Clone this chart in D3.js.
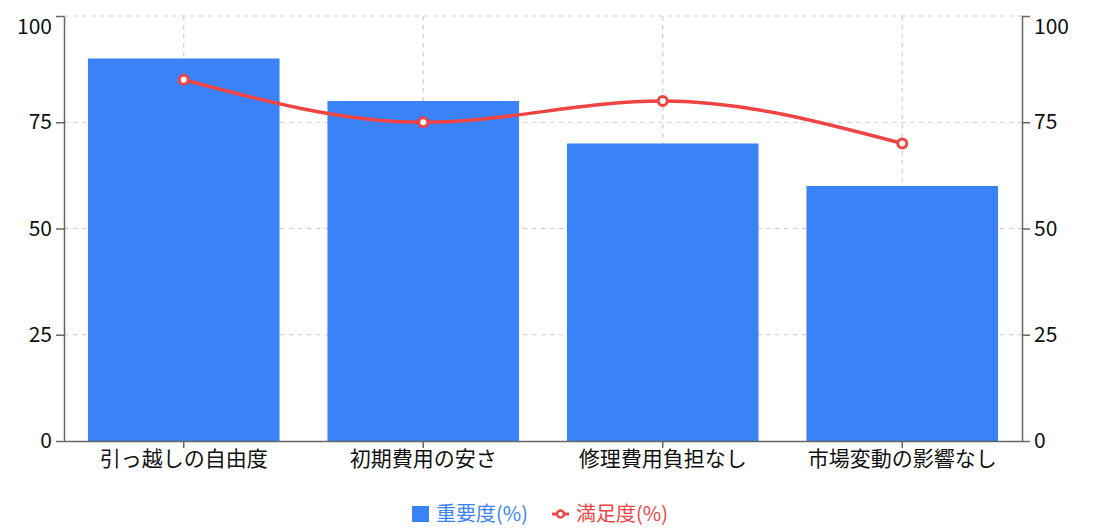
<!DOCTYPE html>
<html><head><meta charset="utf-8">
<script src="https://cdn.jsdelivr.net/npm/d3@7"></script>
<style>
html,body{margin:0;padding:0;background:#fff;}
svg text{font-family:"Noto Sans CJK JP","Noto Sans",sans-serif;}
</style></head>
<body><svg id="c" width="1101" height="528"></svg>
<script>
const categories = ["引っ越しの自由度","初期費用の安さ","修理費用負担なし","市場変動の影響なし"];
const importance = [90, 80, 70, 60];
const satisfaction = [85, 75, 80, 70];
const yTicks = [0, 25, 50, 75, 100];
const seriesNames = ["重要度(%)", "満足度(%)"];
const colors = {bar:"#3b82f6", line:"#ef4444"};

const svg = d3.select("#c");
const L = 64, R = 1022, T = 16, B = 441;
const x = d3.scaleBand().domain(categories).range([L, R]).paddingInner(0).paddingOuter(0);
const y = d3.scaleLinear().domain([0, 100]).range([B, T]);
const fs = 21;

// grid
const grid = svg.append("g").attr("stroke", "#ccc").attr("stroke-dasharray", "4.5 4.5").attr("stroke-width", 1.2);
grid.selectAll("line.h").data(yTicks.filter(d => d > 0)).enter().append("line")
  .attr("x1", L).attr("x2", R).attr("y1", d => y(d)).attr("y2", d => y(d));
grid.selectAll("line.v").data(categories).enter().append("line")
  .attr("x1", d => x(d) + x.bandwidth()/2).attr("x2", d => x(d) + x.bandwidth()/2).attr("y1", T).attr("y2", B);

// bars
const bw = x.bandwidth();
svg.append("g").selectAll("rect").data(importance).enter().append("rect")
  .attr("x", (d, i) => x(categories[i]) + bw * 0.1)
  .attr("width", bw * 0.8)
  .attr("y", d => y(d))
  .attr("height", d => B - y(d))
  .attr("fill", colors.bar);

// axes
function styleAxis(g){
  g.selectAll(".domain").attr("stroke", "#666").attr("stroke-width", 1.5);
  g.selectAll(".tick line").attr("stroke", "#666").attr("stroke-width", 1.5);
  g.selectAll(".tick text").attr("fill", "#111").style("font-size", fs + "px");
}
const yl = svg.append("g").attr("transform", `translate(${L},0)`)
  .call(d3.axisLeft(y).tickValues(yTicks).tickSize(8).tickPadding(4).tickSizeOuter(0));
styleAxis(yl);
const yr = svg.append("g").attr("transform", `translate(${R},0)`)
  .call(d3.axisRight(y).tickValues(yTicks).tickSize(8).tickPadding(4).tickSizeOuter(0));
styleAxis(yr);
[yl, yr].forEach(g => g.selectAll(".tick text").filter(d => d === 100).attr("dy", "0.82em"));
const xa = svg.append("g").attr("transform", `translate(0,${B})`)
  .call(d3.axisBottom(x).tickSize(7).tickPadding(3).tickSizeOuter(0));
styleAxis(xa);
xa.select(".domain").attr("d", `M${L},0.5H${R}`);

// line
const pts = satisfaction.map((v, i) => [x(categories[i]) + bw/2, y(v)]);
svg.append("path").attr("d", d3.line().curve(d3.curveMonotoneX)(pts))
  .attr("fill", "none").attr("stroke", colors.line).attr("stroke-width", 3.5);
svg.append("g").selectAll("circle").data(pts).enter().append("circle")
  .attr("cx", d => d[0]).attr("cy", d => d[1]).attr("r", 4.5)
  .attr("fill", "#fff").attr("stroke", colors.line).attr("stroke-width", 3);

// legend
const lfs = 20;
const lg = svg.append("g");
lg.append("rect").attr("x", 412).attr("y", 506).attr("width", 17).attr("height", 16).attr("fill", colors.bar);
lg.append("text").attr("x", 436).attr("y", 514).attr("dy", "0.35em").attr("fill", colors.bar)
  .style("font-size", lfs + "px").text(seriesNames[0]);
lg.append("line").attr("x1", 552).attr("x2", 569).attr("y1", 514).attr("y2", 514)
  .attr("stroke", colors.line).attr("stroke-width", 3);
lg.append("circle").attr("cx", 560.5).attr("cy", 514).attr("r", 3.5).attr("fill", "#fff")
  .attr("stroke", colors.line).attr("stroke-width", 2.5);
lg.append("text").attr("x", 576).attr("y", 514).attr("dy", "0.35em").attr("fill", colors.line)
  .style("font-size", lfs + "px").text(seriesNames[1]);
</script></body></html>
